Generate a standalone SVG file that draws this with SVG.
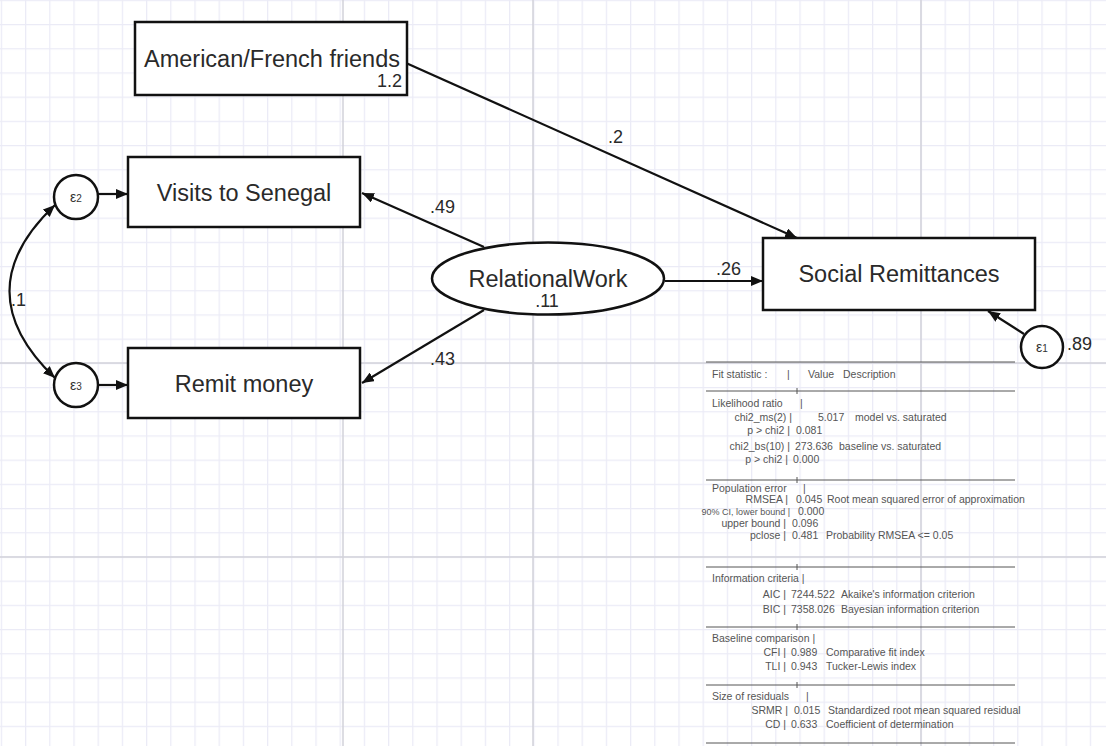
<svg xmlns="http://www.w3.org/2000/svg" width="1106" height="746" viewBox="0 0 1106 746">
<defs>
<pattern id="grid" patternUnits="userSpaceOnUse" x="25" y="24" width="24.2" height="24.2">
<path d="M0 0.6H24.2M0.6 0V24.2" stroke="#ebebf6" stroke-width="1.3" fill="none"/>
</pattern>
<marker id="ah" viewBox="0 0 12 10" refX="12" refY="5" markerWidth="12" markerHeight="10" markerUnits="userSpaceOnUse" orient="auto-start-reverse">
<path d="M0 0L12 5L0 10z" fill="#111"/>
</marker>
</defs>
<style>
.node{fill:#fff;stroke:#111;stroke-width:2.5}
.lbl{font-family:"Liberation Sans",Arial,sans-serif;font-size:23.5px;fill:#2a2a2a;text-anchor:middle}
.num{font-family:"Liberation Sans",Arial,sans-serif;font-size:18px;fill:#2a2a2a}
.eps{font-family:"Liberation Sans",Arial,sans-serif;font-size:14px;fill:#333;text-anchor:middle}
.edge{fill:none;stroke:#111;stroke-width:2.2;marker-end:url(#ah)}
.t{font-family:"Liberation Sans",Arial,sans-serif;font-size:10.5px;fill:#555}
.e{text-anchor:end}
.sm{font-size:9px}
.rule{stroke:#555;stroke-width:1}
.maj{stroke:#d2d2da;stroke-width:1.5}
</style>
<rect width="1106" height="746" fill="#fff"/>
<rect width="1106" height="746" fill="url(#grid)"/>
<g id="grid-major">
<line class="maj" x1="343" y1="0" x2="343" y2="746"/>
<line class="maj" x1="533" y1="0" x2="533" y2="746"/>
<line class="maj" x1="921" y1="0" x2="921" y2="746"/>
<line class="maj" x1="0" y1="363" x2="1106" y2="363"/>
<line class="maj" x1="0" y1="557" x2="1106" y2="557"/>
</g>

<g id="connectors">
<path class="edge" d="M406 63L797 238"/>
<path class="edge" d="M484 247L362 193"/>
<path class="edge" d="M484 310L362 383"/>
<path class="edge" d="M665 281L763 281"/>
<path class="edge" d="M1024 334L988 311"/>
<path class="edge" d="M98 194L128 194"/>
<path class="edge" d="M98 385L128 385"/>
<path class="edge" style="marker-start:url(#ah)" d="M55 205Q-36 291 55 378"/>
<text class="num" x="608" y="143">.2</text>
<text class="num" x="430" y="213">.49</text>
<text class="num" x="430" y="365">.43</text>
<text class="num" x="716" y="275">.26</text>
<text class="num" x="11" y="306">.1</text>
</g>

<g id="american-french-friends">
<rect class="node" x="135" y="22" width="272" height="73"/>
<text class="lbl" x="272" y="67">American/French friends</text>
<text class="num" x="402" y="87" text-anchor="end">1.2</text>
</g>

<g id="visits-to-senegal">
<rect class="node" x="128" y="157" width="232" height="70"/>
<text class="lbl" x="244" y="201">Visits to Senegal</text>
</g>

<g id="remit-money">
<rect class="node" x="128" y="348" width="232" height="70"/>
<text class="lbl" x="244" y="392">Remit money</text>
</g>

<g id="relational-work">
<ellipse class="node" cx="548" cy="278.5" rx="116" ry="36"/>
<text class="lbl" x="548" y="287">RelationalWork</text>
<text class="num" x="547" y="307" text-anchor="middle">.11</text>
</g>

<g id="social-remittances">
<rect class="node" x="763" y="238" width="272" height="72"/>
<text class="lbl" x="899" y="282">Social Remittances</text>
</g>

<g id="e1">
<circle class="node" cx="1042" cy="347" r="21"/>
<text class="eps" x="1042" y="352">ε<tspan font-size="10">1</tspan></text>
<text class="num" x="1067" y="350">.89</text>
</g>

<g id="e2">
<circle class="node" cx="76" cy="197" r="22"/>
<text class="eps" x="76" y="202">ε<tspan font-size="10">2</tspan></text>
</g>

<g id="e3">
<circle class="node" cx="76" cy="385" r="22"/>
<text class="eps" x="76" y="390">ε<tspan font-size="10">3</tspan></text>
</g>

<g id="fit-statistics">
<line class="rule" x1="706" y1="362" x2="1015" y2="362"/>
<line class="rule" x1="706" y1="391" x2="1015" y2="391"/>
<line class="rule" x1="706" y1="480" x2="1015" y2="480"/>
<line class="rule" x1="706" y1="567" x2="1015" y2="567"/>
<line class="rule" x1="706" y1="627" x2="1015" y2="627"/>
<line class="rule" x1="706" y1="685" x2="1015" y2="685"/>
<line class="rule" x1="706" y1="743" x2="1015" y2="743"/>
<path class="rule" d="M797 388V394M797 477V483M797 564V570M797 624V630M797 682V688"/>
<text class="t" y="378"><tspan x="712">Fit statistic :</tspan><tspan x="787">|</tspan><tspan x="808">Value</tspan><tspan x="843">Description</tspan></text>
<text class="t" y="407"><tspan x="712">Likelihood ratio</tspan><tspan x="800">|</tspan></text>
<text class="t e" x="792" y="421">chi2_ms(2) |</text>
<text class="t" y="421"><tspan x="818">5.017</tspan><tspan x="855">model vs. saturated</tspan></text>
<text class="t e" x="790" y="434">p &gt; chi2 |</text>
<text class="t" x="796" y="434">0.081</text>
<text class="t e" x="790" y="450">chi2_bs(10) |</text>
<text class="t" y="450"><tspan x="795">273.636</tspan><tspan x="839">baseline vs. saturated</tspan></text>
<text class="t e" x="788" y="463">p &gt; chi2 |</text>
<text class="t" x="793" y="463">0.000</text>
<text class="t" y="492"><tspan x="712">Population error</tspan><tspan x="803">|</tspan></text>
<text class="t e" x="788" y="503">RMSEA |</text>
<text class="t" y="503"><tspan x="796">0.045</tspan><tspan x="827">Root mean squared error of approximation</tspan></text>
<text class="t e sm" x="790" y="515">90% CI, lower bound |</text>
<text class="t" x="798" y="515">0.000</text>
<text class="t e" x="786" y="527">upper bound |</text>
<text class="t" x="792" y="527">0.096</text>
<text class="t e" x="786" y="539">pclose |</text>
<text class="t" y="539"><tspan x="792">0.481</tspan><tspan x="826">Probability RMSEA &lt;= 0.05</tspan></text>
<text class="t" x="712" y="582">Information criteria |</text>
<text class="t e" x="786" y="598">AIC |</text>
<text class="t" y="598"><tspan x="791">7244.522</tspan><tspan x="841">Akaike's information criterion</tspan></text>
<text class="t e" x="786" y="613">BIC |</text>
<text class="t" y="613"><tspan x="791">7358.026</tspan><tspan x="841">Bayesian information criterion</tspan></text>
<text class="t" x="712" y="642">Baseline comparison |</text>
<text class="t e" x="786" y="656">CFI |</text>
<text class="t" y="656"><tspan x="791">0.989</tspan><tspan x="826">Comparative fit index</tspan></text>
<text class="t e" x="786" y="670">TLI |</text>
<text class="t" y="670"><tspan x="791">0.943</tspan><tspan x="826">Tucker-Lewis index</tspan></text>
<text class="t" y="700"><tspan x="712">Size of residuals</tspan><tspan x="806">|</tspan></text>
<text class="t e" x="788" y="714">SRMR |</text>
<text class="t" y="714"><tspan x="794">0.015</tspan><tspan x="828">Standardized root mean squared residual</tspan></text>
<text class="t e" x="786" y="728">CD |</text>
<text class="t" y="728"><tspan x="791">0.633</tspan><tspan x="826">Coefficient of determination</tspan></text>
</g>
</svg>
